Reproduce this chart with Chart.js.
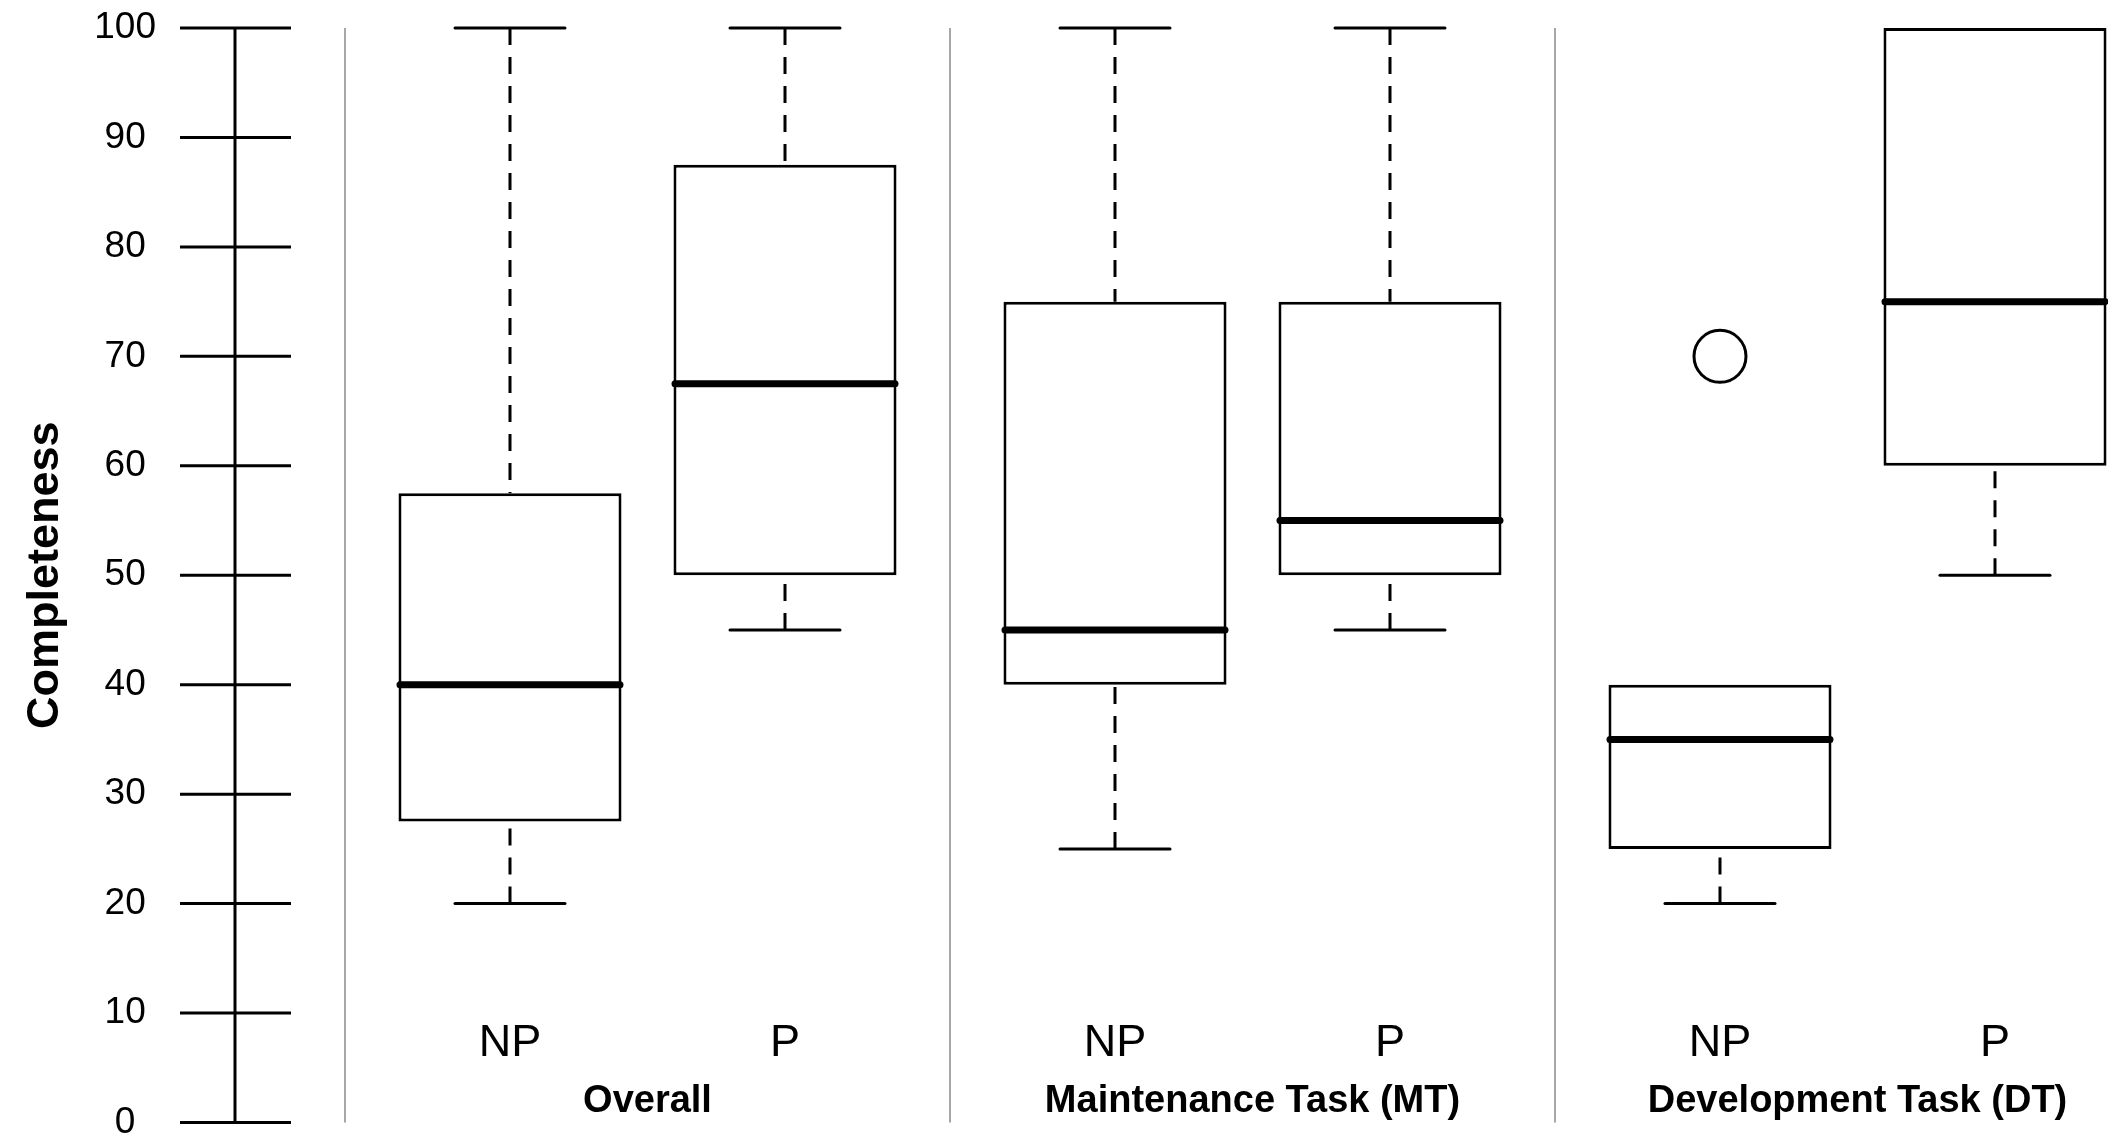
<!DOCTYPE html>
<html>
<head>
<meta charset="utf-8">
<script src="https://cdn.jsdelivr.net/npm/chart.js@4.4.1/dist/chart.umd.min.js"></script>
<style>
  html, body { margin: 0; padding: 0; background: #ffffff; overflow: hidden; }
  #wrap { position: absolute; left: 0; top: 0; width: 2108px; height: 1141px; }
  canvas { display: block; }
</style>
</head>
<body>
<div id="wrap"><canvas id="chart"></canvas></div>
<script>
// ---------------- data ----------------
const categories   = ['NP', 'P', 'NP', 'P', 'NP', 'P'];
const groupNames   = ['Overall', 'Maintenance Task (MT)', 'Development Task (DT)'];
const groupOf      = [0, 0, 1, 1, 2, 2];
const whiskerLow   = [20, 45, 25, 45, 20, 50];
const quartile1    = [27.5, 50, 40, 50, 25, 60];
const medians      = [40, 67.5, 45, 55, 35, 75];
const quartile3    = [57.5, 87.5, 75, 75, 40, 100];
const whiskerHigh  = [100, 100, 100, 100, 40, 100];
const outlierValues = [[], [], [], [], [70], []];
const yTickValues  = [0, 10, 20, 30, 40, 50, 60, 70, 80, 90, 100];
const yAxisTitle   = 'Completeness';

// ---------------- layout helpers ----------------
const FONT = "'Liberation Sans', Arial, Helvetica, sans-serif";
const GROUP_GAP = 0.2;
const pos = categories.map((c, i) => 1 + i + groupOf[i] * GROUP_GAP);
const BOX_HALF = 0.4;
const CAP_HALF = 0.2;
const separators = [pos[0] - 0.6];
for (let i = 1; i < pos.length; i++) {
  if (groupOf[i] !== groupOf[i - 1]) separators.push((pos[i - 1] + pos[i]) / 2);
}

const boxData = categories.map((c, i) => ({ x: pos[i], y: [quartile1[i], quartile3[i]] }));
const outlierData = [];
outlierValues.forEach((arr, i) => arr.forEach(v => outlierData.push({ x: pos[i], y: v })));

const decor = {
  id: 'decor',
  beforeDatasetsDraw(chart) {
    const { ctx, scales: { x, y } } = chart;
    ctx.save();
    ctx.strokeStyle = '#8a8a8a';
    ctx.lineWidth = 1.5;
    separators.forEach(v => {
      const px = x.getPixelForValue(v);
      ctx.beginPath();
      ctx.moveTo(px, y.getPixelForValue(100));
      ctx.lineTo(px, y.getPixelForValue(0));
      ctx.stroke();
    });
    const x0 = x.getPixelForValue(0);
    ctx.strokeStyle = '#000';
    ctx.lineWidth = 3;
    ctx.lineCap = 'butt';
    ctx.beginPath();
    ctx.moveTo(x0, y.getPixelForValue(yTickValues[0]));
    ctx.lineTo(x0, y.getPixelForValue(yTickValues[yTickValues.length - 1]));
    ctx.stroke();
    yTickValues.forEach(v => {
      const py = y.getPixelForValue(v);
      ctx.beginPath();
      ctx.moveTo(x0 - 55, py);
      ctx.lineTo(x0 + 56, py);
      ctx.stroke();
    });
    ctx.restore();
  },
  afterDatasetsDraw(chart) {
    const { ctx, scales: { x, y } } = chart;
    ctx.save();
    ctx.strokeStyle = '#000';
    categories.forEach((c, i) => {
      const cx = x.getPixelForValue(pos[i]);
      [[whiskerLow[i], quartile1[i]], [whiskerHigh[i], quartile3[i]]].forEach(([a, b]) => {
        if (a === b) return;
        // dashed whisker, drawn from the extreme towards the box
        ctx.lineWidth = 3;
        ctx.lineCap = 'butt';
        ctx.setLineDash([17, 12]);
        ctx.beginPath();
        ctx.moveTo(cx, y.getPixelForValue(a));
        ctx.lineTo(cx, y.getPixelForValue(b));
        ctx.stroke();
        ctx.setLineDash([]);
        // staple
        ctx.lineCap = 'round';
        const py = y.getPixelForValue(a);
        ctx.beginPath();
        ctx.moveTo(x.getPixelForValue(pos[i] - CAP_HALF), py);
        ctx.lineTo(x.getPixelForValue(pos[i] + CAP_HALF), py);
        ctx.stroke();
      });
      ctx.lineWidth = 7;
      ctx.lineCap = 'round';
      const my = y.getPixelForValue(medians[i]);
      ctx.beginPath();
      ctx.moveTo(x.getPixelForValue(pos[i] - BOX_HALF), my);
      ctx.lineTo(x.getPixelForValue(pos[i] + BOX_HALF), my);
      ctx.stroke();
    });
    ctx.fillStyle = '#000';
    ctx.textAlign = 'center';
    ctx.textBaseline = 'alphabetic';
    ctx.font = '45px ' + FONT;
    categories.forEach((c, i) => {
      ctx.fillText(c, x.getPixelForValue(pos[i]), y.getPixelForValue(0) - 66.5);
    });
    ctx.font = 'bold 38px ' + FONT;
    groupNames.forEach((g, gi) => {
      const idx = groupOf.map((v, i) => v === gi ? i : -1).filter(i => i >= 0);
      const center = (pos[idx[0]] + pos[idx[idx.length - 1]]) / 2;
      ctx.fillText(g, x.getPixelForValue(center), y.getPixelForValue(0) - 10.8);
    });
    ctx.restore();
  }
};

new Chart(document.getElementById('chart'), {
  type: 'bar',
  data: {
    datasets: [
      {
        type: 'bar',
        label: 'IQR',
        data: boxData,
        backgroundColor: '#ffffff',
        borderColor: '#000000',
        borderWidth: 3,
        borderSkipped: false,
        categoryPercentage: 1,
        barPercentage: 0.811,
        clip: false
      },
      {
        type: 'scatter',
        label: 'Outliers',
        data: outlierData,
        pointRadius: 26,
        pointBorderWidth: 3,
        borderColor: '#000000',
        backgroundColor: 'rgba(255,255,255,0)',
        pointStyle: 'circle',
        clip: false
      }
    ]
  },
  options: {
    responsive: true,
    maintainAspectRatio: false,
    animation: false,
    events: [],
    layout: { autoPadding: false, padding: { top: 28, bottom: 18.5, left: 0, right: 0 } },
    plugins: { legend: { display: false }, tooltip: { enabled: false } },
    scales: {
      x: {
        type: 'linear',
        min: -0.28727,
        max: 6.81091,
        offset: false,
        display: false,
        afterBuildTicks: s => { s.ticks = pos.map(v => ({ value: v })); }
      },
      y: {
        type: 'linear',
        min: 0,
        max: 100,
        afterBuildTicks: s => { s.ticks = yTickValues.map(v => ({ value: v })); },
        afterFit: s => { s.width = 156; },
        grid: { display: false, drawTicks: false },
        border: { display: false },
        ticks: {
          padding: 0,
          crossAlign: 'center',
          color: '#000',
          font: { family: FONT, size: 37, lineHeight: 1 }
        },
        title: {
          display: true,
          text: yAxisTitle,
          color: '#000',
          font: { family: FONT, size: 45, weight: 'bold', lineHeight: 1.2 },
          padding: { top: 19, bottom: 0 }
        }
      }
    }
  },
  plugins: [decor]
});
</script>
</body>
</html>
